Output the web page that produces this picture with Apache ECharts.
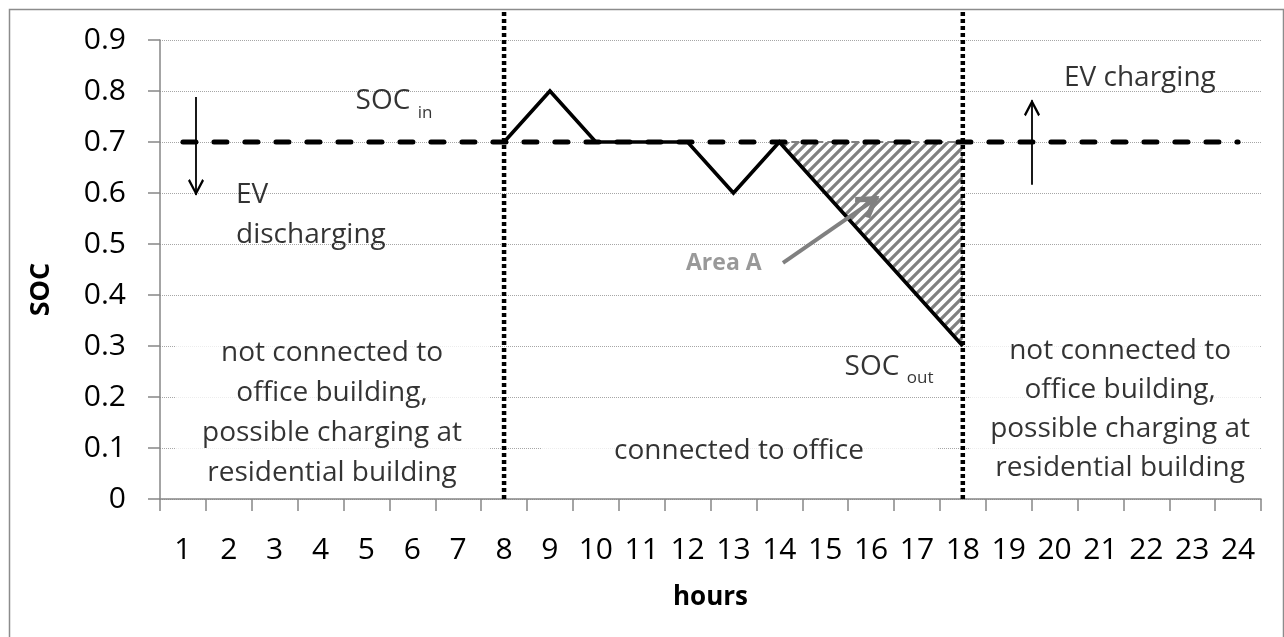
<!DOCTYPE html>
<html>
<head>
<meta charset="utf-8">
<title>EV state of charge over the day</title>
<script src="https://cdn.jsdelivr.net/npm/echarts@6/dist/echarts.min.js"></script>
<style>
  html, body { margin: 0; padding: 0; background: #fff; }
  #chart { width: 1284px; height: 637px; }
</style>
</head>
<body>
<div id="chart"></div>
<script>
  // hours of the day on the x axis
  const hours = ['1', '2', '3', '4', '5', '6', '7', '8', '9', '10', '11', '12',
                 '13', '14', '15', '16', '17', '18', '19', '20', '21', '22', '23', '24']
  // SOC reference (SOC in) over the whole day
  const socRef = [0.7, 0.7, 0.7, 0.7, 0.7, 0.7, 0.7, 0.7, 0.7, 0.7, 0.7, 0.7,
                  0.7, 0.7, 0.7, 0.7, 0.7, 0.7, 0.7, 0.7, 0.7, 0.7, 0.7, 0.7]
  // SOC while connected to the office (8 - 18)
  const socOffice = [null, null, null, null, null, null, null, 0.7, 0.8, 0.7, 0.7, 0.7,
                     0.6, 0.7, 0.6, 0.5, 0.4, 0.3, null, null, null, null, null, null]
  // hours spanned by area A
  const areaHours = ['14', '15', '16', '17', '18']
  // y axis ticks
  const yMin = 0
  const yMax = 0.9
  const yStep = 0.1
  // plug-in / plug-out hours
  const plugHours = [8, 18]

  const inArea = (i) => areaHours.indexOf(hours[i]) >= 0
  const areaBase = socOffice.map((v, i) => inArea(i) ? v : null)
  const areaGap = socOffice.map((v, i) => inArea(i) ? +(socRef[i] - v).toFixed(2) : null)

  const FONT = 'Open Sans'

  function stripes() {
      const s = 10
      const c = document.createElement('canvas')
      c.width = s
      c.height = s
      const g = c.getContext('2d')
      g.fillStyle = '#fff'
      g.fillRect(0, 0, s, s)
      g.strokeStyle = '#808080'
      g.lineWidth = 3.2
      g.beginPath()
      g.moveTo(0, s); g.lineTo(s, 0)
      g.moveTo(-s / 2, s / 2); g.lineTo(s / 2, -s / 2)
      g.moveTo(s / 2, s * 1.5); g.lineTo(s * 1.5, s / 2)
      g.stroke()
      return c
  }

  function note(text, x, y, opts) {
      return {
          value: [x, y],
          label: Object.assign({ formatter: text }, opts || {})
      }
  }
  function boxed(width, padding, extra) {
      return Object.assign({
          backgroundColor: '#fff',
          width: width,
          padding: padding,
          lineHeight: 40,
          align: 'center'
      }, extra || {})
  }

  // open arrow heads, tip at the centre of the symbol box
  const thinHead = 'path://M5,0M0,20L5,10L10,20L8.9,21.1L5,13.2L1.1,21.1Z'
  const thickHead = 'path://M5,0M0,20L5,10L10,20L8.3,21.7L5,14.8L1.7,21.7Z'
  function arrow(from, to, color, width, head, size) {
      const ls = { color: color, width: width, type: 'solid' }
      return [
          { coord: from, symbol: 'none', lineStyle: ls },
          { coord: to, symbol: head, symbolSize: size, lineStyle: ls }
      ]
  }

  const leftText = 'not connected to\noffice building,\npossible charging at\nresidential building'

  const chart = echarts.init(document.getElementById('chart'))
  chart.setOption({
      animation: false,
      textStyle: { fontFamily: FONT },
      graphic: [{
          type: 'rect',
          left: 7,
          top: 7,
          silent: true,
          shape: { width: 1274, height: 640 },
          style: { fill: 'none', stroke: '#8c8c8c', lineWidth: 1.5 }
      }],
      grid: {
          left: 160,
          top: 40,
          right: 23,
          bottom: 138,
          outerBoundsMode: 'none'
      },
      xAxis: [{
          type: 'category',
          data: hours,
          boundaryGap: true,
          name: 'hours',
          nameLocation: 'middle',
          nameGap: 86,
          nameTextStyle: { fontFamily: FONT, fontSize: 26, fontWeight: 'bold', color: '#000' },
          axisLine: { lineStyle: { color: '#868686', width: 1.5 } },
          axisTick: { show: true, length: 12, lineStyle: { color: '#868686', width: 1.5 } },
          axisLabel: { interval: 0, margin: 36, fontFamily: FONT, fontSize: 30, color: '#000' },
          splitLine: { show: false }
      }, {
          type: 'value',
          min: 0.5,
          max: 24.5,
          show: false
      }],
      yAxis: {
          type: 'value',
          min: yMin,
          max: yMax,
          interval: yStep,
          name: 'SOC',
          nameLocation: 'middle',
          nameGap: 105,
          nameMoveOverlap: false,
          nameTextStyle: {
              fontFamily: FONT, fontSize: 27, fontWeight: 'bold', color: '#000',
              padding: [0, 40, 0, 0]
          },
          axisLine: { show: true, lineStyle: { color: '#868686', width: 1.5 } },
          axisTick: { show: true, length: 12, lineStyle: { color: '#868686', width: 1.5 } },
          axisLabel: { margin: 34, fontFamily: FONT, fontSize: 30, color: '#000' },
          splitLine: { show: true, lineStyle: { color: '#a6a6a6', width: 1, type: [1, 1] } }
      },
      series: [{
          name: 'notes',
          type: 'scatter',
          xAxisIndex: 1,
          symbolSize: 0,
          silent: true,
          clip: false,
          z: 1,
          label: {
              show: true,
              position: 'inside',
              fontFamily: FONT,
              fontSize: 28,
              color: '#000'
          },
          data: [
              note(leftText, 4.25, 0.169, boxed(314, [4, 0, 4, 0])),
              note('connected to office', 13.12, 0.094, boxed(396, [0, 0, 48, 0])),
              note(leftText, 21.32, 0.1755, boxed(280, [4, 0, 12, 10], { lineHeight: 39.3 })),
              note('EV charging', 21.86, 0.8255),
              note('EV\ndischarging', 2.157, 0.557, { align: 'left', lineHeight: 40 }),
              note('SOC', 5.36, 0.7804),
              note('in', 6.28, 0.757, { fontSize: 17 }),
              note('SOC', 16.02, 0.2588),
              note('out', 17.07, 0.237, { fontSize: 17 }),
              note('Area A', 12.79, 0.461, { fontSize: 23, fontWeight: 'bold', color: '#7f7f7f' })
          ]
      }, {
          name: 'area base',
          type: 'line',
          stack: 'areaA',
          data: areaBase,
          symbol: 'none',
          silent: true,
          lineStyle: { opacity: 0 },
          z: 2
      }, {
          name: 'Area A',
          type: 'line',
          stack: 'areaA',
          data: areaGap,
          symbol: 'none',
          silent: true,
          lineStyle: { color: '#808080', width: 2, type: 'dashed' },
          areaStyle: { color: { image: stripes(), repeat: 'repeat' }, opacity: 1 },
          z: 2
      }, {
          name: 'SOC in',
          type: 'line',
          data: socRef,
          symbol: 'none',
          silent: true,
          lineStyle: { color: '#000', width: 5, type: [13, 18], cap: 'round' },
          z: 3
      }, {
          name: 'SOC',
          type: 'line',
          data: socOffice,
          symbol: 'none',
          silent: true,
          connectNulls: false,
          lineStyle: { color: '#000', width: 3.6, cap: 'butt', join: 'miter' },
          z: 4
      }, {
          name: 'plug in / out',
          type: 'custom',
          xAxisIndex: 1,
          silent: true,
          clip: false,
          z: 5,
          data: plugHours.map((h) => [h, yMin]),
          encode: { x: 0, y: 1 },
          renderItem: function(params, api) {
              const bottom = api.coord([api.value(0), api.value(1)])
              const top = api.coord([api.value(0), 0.96])
              return {
                  type: 'line',
                  shape: { x1: bottom[0], y1: bottom[1], x2: top[0], y2: top[1] },
                  style: { stroke: '#000', lineWidth: 4.5, lineDash: [4, 3], fill: null }
              }
          }
      }, {
          name: 'arrows',
          type: 'scatter',
          xAxisIndex: 1,
          data: [],
          silent: true,
          clip: false,
          z: 5,
          markLine: {
              silent: true,
              symbol: ['none', 'none'],
              label: { show: false },
              emphasis: { disabled: true },
              data: [
                  arrow([1.285, 0.788], [1.285, 0.596], '#000', 1.8, thinHead, [16, 32]),
                  arrow([19.508, 0.616], [19.508, 0.782], '#000', 1.8, thinHead, [16, 32]),
                  arrow([14.08, 0.463], [16.15, 0.592], '#808080', 4, thickHead, [26, 44])
              ]
          }
      }]
  })
</script>
</body>
</html>
